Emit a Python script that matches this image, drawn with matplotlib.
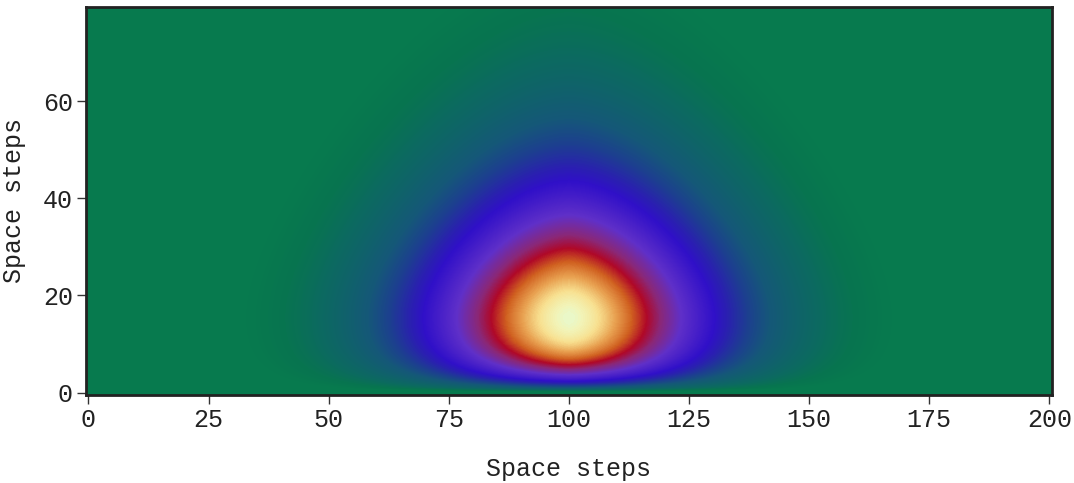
import numpy as np
import matplotlib
matplotlib.use("Agg")
import matplotlib.pyplot as plt
from matplotlib.colors import LinearSegmentedColormap

# --------------------------------------------------
# 1. Field parameters
# --------------------------------------------------

nx = 201          # space steps along x
ny = 80           # space steps along y
x_center = 100    # column of the hot spot
y_peak = 15.4     # row where the field peaks
x_width = 34.8    # horizontal decay length
x_power = 1.7     # shape of the horizontal decay
q_below = 0.75    # sharpness of the profile below the peak
q_above = 1.0     # sharpness of the profile above the peak

# colour stops of the map (field value -> colour)
cmap_levels = [0.0, 0.045, 0.083, 0.135, 0.252, 0.326, 0.40, 0.454, 0.603, 0.698,
               0.763, 0.829, 0.894, 0.951, 0.989, 1.0]
cmap_colors = ["#077a4e", "#077a4e", "#087450", "#0c6a60", "#155878", "#1d3f90", "#2a20b0",
               "#3010c8", "#6030c8", "#8a2878", "#b00828", "#d06020", "#e8a050", "#f8e090",
               "#f2f4b8", "#eaf8c8"]

x_ticks = [0, 25, 50, 75, 100, 125, 150, 175, 200]
y_ticks = [0, 20, 40, 60]

# --------------------------------------------------
# 2. Build the field
# --------------------------------------------------

xs = np.arange(nx)
ys = np.arange(ny)
profile_x = np.exp(-(np.abs(xs - x_center) / x_width) ** x_power)
t = np.maximum(ys / y_peak, 1e-9)
q = np.where(t < 1, q_below, q_above)
profile_y = np.where(ys > 0, (t * np.exp(1 - t)) ** q, 0.0)
field = np.outer(profile_y, profile_x)

# --------------------------------------------------
# 3. Plot
# --------------------------------------------------

cmap = LinearSegmentedColormap.from_list("heat", list(zip(cmap_levels, cmap_colors)))

plt.rcParams["font.family"] = ["Liberation Mono", "DejaVu Sans Mono"]

fig = plt.figure(figsize=(10.74, 4.83), dpi=100)
ax = fig.add_axes([0.0801, 0.1822, 0.8991, 0.8039])
ax.imshow(field, origin="lower", cmap=cmap, vmin=0, vmax=1,
          interpolation="bilinear", aspect="auto")

ax.set_xticks(x_ticks)
ax.set_yticks(y_ticks)
ax.tick_params(direction="out", length=6.5, width=1, color="#333333",
               labelsize=18, labelcolor="#222222", pad=3)
for spine in ax.spines.values():
    spine.set_linewidth(2)
    spine.set_color("#222222")

ax.set_xlabel("Space steps", fontsize=18, color="#222222", labelpad=18)
ax.set_ylabel("Space steps", fontsize=18, color="#222222", labelpad=12)

fig.savefig("out.png", dpi=100)
